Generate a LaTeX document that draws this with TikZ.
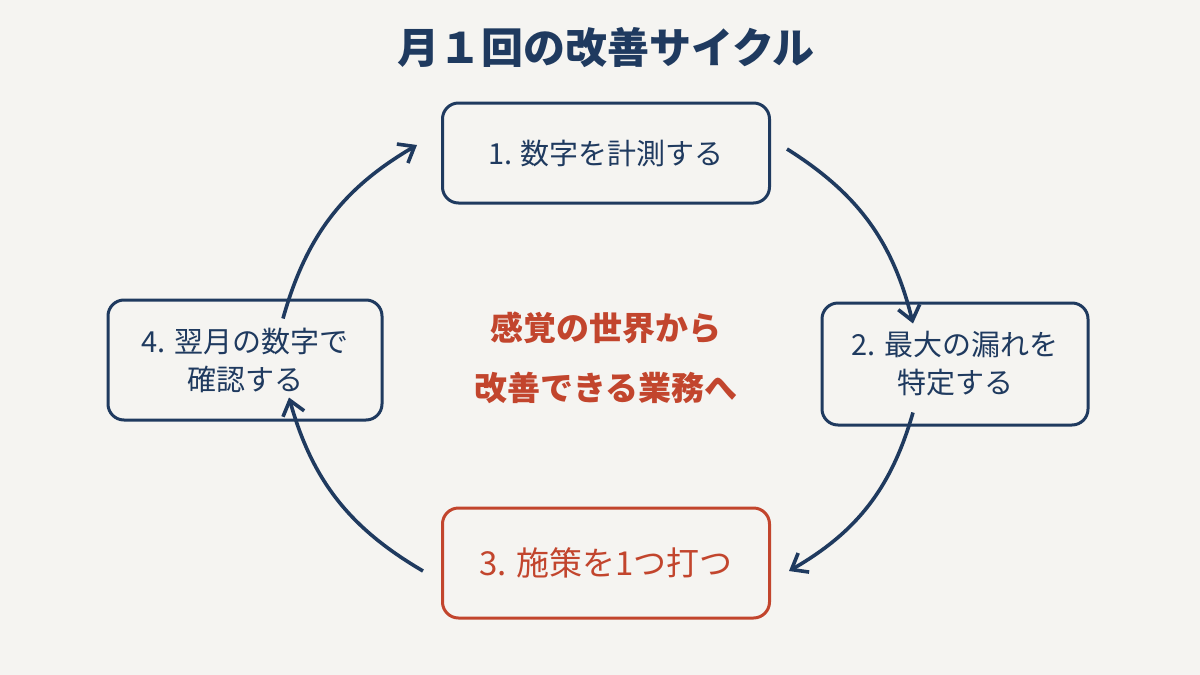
\documentclass[tikz,border=0pt]{standalone}
\usepackage{fontspec}
\setmainfont{Noto Sans CJK JP}
\usetikzlibrary{positioning,arrows.meta}
\definecolor{navy}{HTML}{1F3A5F}
\definecolor{rust}{HTML}{C2452D}
\definecolor{paper}{HTML}{F5F4F1}

\begin{document}
\begin{tikzpicture}[x=0.5pt,y=-0.5pt,
    stepbox/.style={draw=navy, line width=1.5pt, rounded corners=8pt, text=navy, align=center, font=\fontsize{14.5}{19}\selectfont, inner sep=0pt},
    cyc/.style={-{Straight Barb[length=7pt,width=11pt]}, draw=navy, line width=1.8pt}]
                % background
                \fill[paper] (0,0) rectangle (1200,675);

                % title
                \node[text=navy, font=\fontsize{21}{24}\selectfont\bfseries] (title) at (606,48) {月１回の改善サイクル};

                % steps
                \node[stepbox, minimum width=163.5pt, minimum height=50pt] (meas) at (606,153) {1. 数字を計測する};
                \node[stepbox, minimum width=133pt, minimum height=61pt] (leak) at (955,364) {2. 最大の漏れを\\特定する};
                \node[stepbox, draw=rust, text=rust, minimum width=163.5pt, minimum height=55pt, font=\fontsize{16.5}{19}\selectfont] (act) at (606,563) {3. 施策を1つ打つ};
                \node[stepbox, minimum width=137pt, minimum height=60pt] (check) at (245,360) {4. 翌月の数字で\\確認する};

                % centre message
                \node[text=rust, align=center, font=\fontsize{16.5}{30}\selectfont\bfseries] (msg) at (606,358) {感覚の世界から\\改善できる業務へ};

                % cycle arrows
                \draw[cyc] ([xshift=8pt,yshift=2pt]meas.east) to[bend left=22] ([xshift=-21pt,yshift=-11pt]leak.north);
                \draw[cyc] ([xshift=-21pt,yshift=7pt]leak.south) to[bend left=22] ([xshift=9pt,yshift=-4pt]act.east);
                \draw[cyc] ([xshift=-9pt,yshift=-4pt]act.west) to[bend left=22] ([xshift=22pt,yshift=12pt]check.south);
                \draw[cyc] ([xshift=19pt,yshift=-10pt]check.north) to[bend left=22] ([xshift=-12pt,yshift=4pt]meas.west);
\end{tikzpicture}
\end{document}
